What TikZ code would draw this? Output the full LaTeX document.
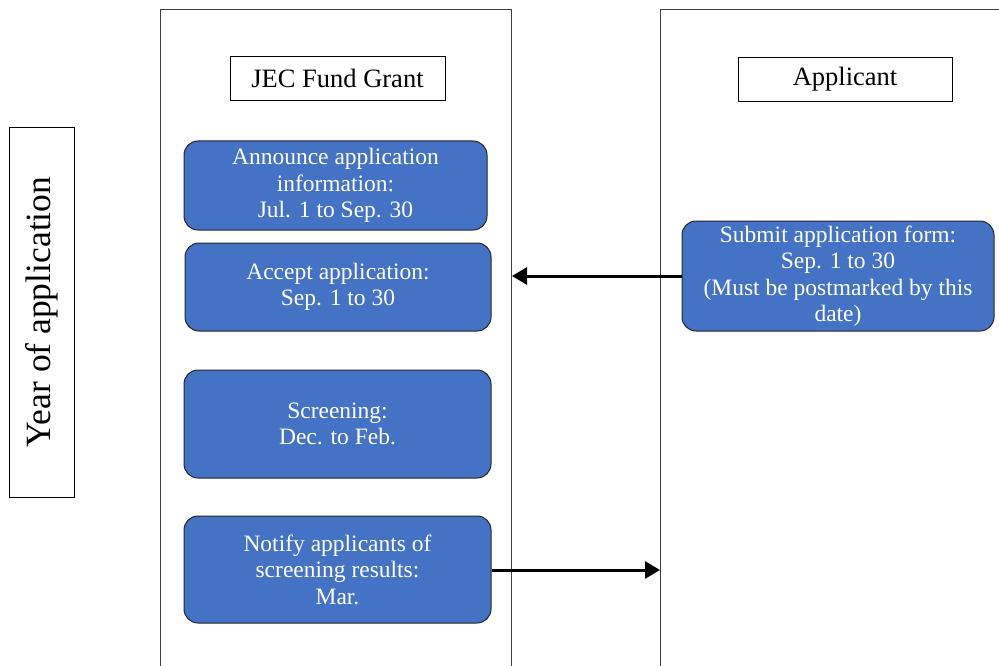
\documentclass[tikz,border=0pt]{standalone}
\usepackage{fontspec}
\setmainfont{Liberation Serif}
\usetikzlibrary{arrows.meta}
\definecolor{officeblue}{HTML}{4472C4}
\definecolor{lanegray}{HTML}{404040}
\tikzset{
  lane/.style={draw=lanegray, line width=1pt},
  titlebox/.style={draw=black, line width=0.9pt, fill=white, minimum width=#1, minimum height=44pt, inner sep=0pt, font=\fontsize{26.5}{30}\selectfont},
  bluebox/.style={draw=black!85, line width=1pt, fill=officeblue, rounded corners=14pt, text=white, align=center, inner sep=0pt, font=\fontsize{23.5}{26.5}\selectfont},
  flow/.style={line width=3pt, -{Triangle[length=15pt,width=17pt]}}
}
\begin{document}
\begin{tikzpicture}[x=1pt,y=-1pt]
\useasboundingbox (0,0) rectangle (999,666);
% lanes
\draw[lane] (160,680) -- (160,10) -- (511,10) -- (511,680);
\draw[lane] (660,680) -- (660,10) -- (1010,10);
% year label
\node[draw=black, line width=0.9pt, minimum width=65pt, minimum height=370pt, inner sep=0pt] (year) at (41.5,312) {};
\node[rotate=90, font=\fontsize{35.5}{40}\selectfont] (yeartext) at (year.center) {Year of application};
% titles
\node[titlebox=215pt] (jec) at (337.5,78) {JEC Fund Grant};
\node[titlebox=214pt] (appl) at (845,79.5) {Applicant};
% blue boxes
\node[bluebox, minimum width=303pt, minimum height=89pt] (announce) at (335.5,185.5) {Announce application\\information:\\Jul. 1 to Sep. 30};
\node[bluebox, minimum width=306pt, minimum height=88pt] (accept) at (338,287) {Accept application:\\Sep. 1 to 30};
\node[bluebox, minimum width=307pt, minimum height=108pt] (screen) at (337.5,424) {Screening:\\Dec. to Feb.};
\node[bluebox, minimum width=307pt, minimum height=107pt] (notify) at (337.5,569.5) {Notify applicants of\\screening results:\\Mar.};
\node[bluebox, minimum width=312pt, minimum height=110pt] (submit) at (838,276) {Submit application form:\\Sep. 1 to 30\\(Must be postmarked by this\\date)};
% arrow end points on lane borders
\coordinate (laneL) at (512,276);
\coordinate (laneR) at (660,570);
\draw[flow] (submit.west) -- (laneL);
\draw[flow] (notify.east |- laneR) -- (laneR);
\end{tikzpicture}
\end{document}
